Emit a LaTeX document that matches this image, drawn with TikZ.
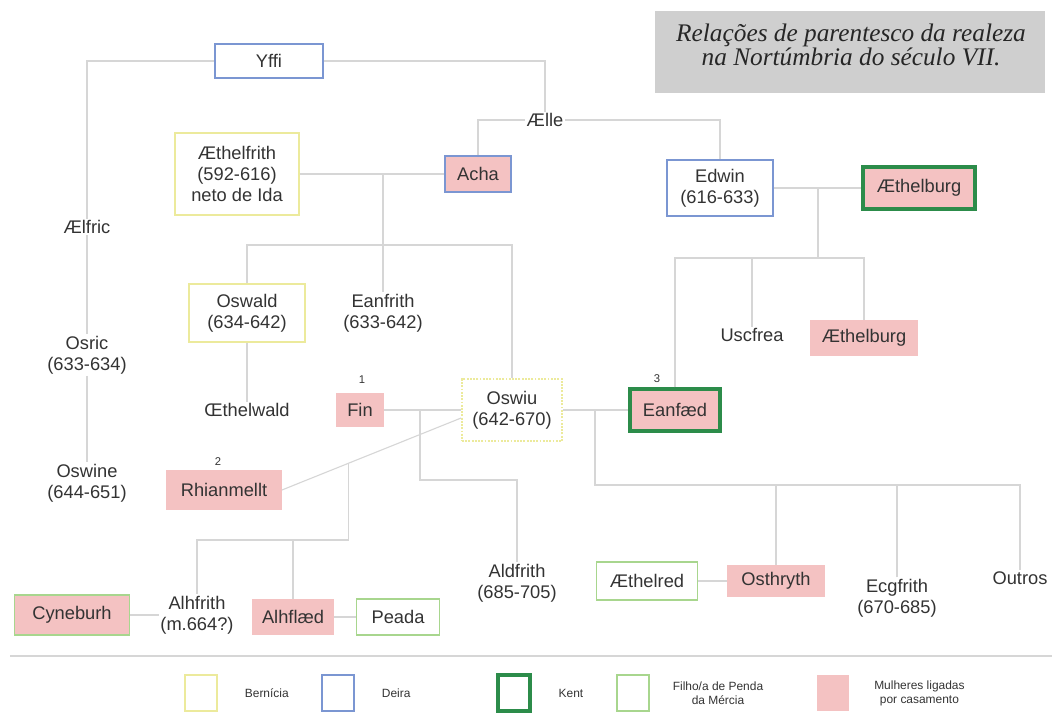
\documentclass[tikz,border=0pt]{standalone}
\usepackage{fontspec}
\setmainfont{Liberation Sans}
\newfontfamily\titlefont{Liberation Serif}
\usetikzlibrary{positioning,calc}
\definecolor{bernYel}{HTML}{ECEA9C}
\definecolor{deiraBlue}{HTML}{7B96D2}
\definecolor{kentGreen}{HTML}{2C8C4A}
\definecolor{pendaGreen}{HTML}{A8D68E}
\definecolor{wedPink}{HTML}{F4C2C2}
\definecolor{linkGray}{HTML}{D6D6D6}
\definecolor{txtGray}{HTML}{333333}
\definecolor{titleGray}{HTML}{CFCFCF}

\begin{document}
\begin{tikzpicture}[x=0.025cm, y=-0.025cm, font=\fontsize{13}{15}\selectfont, text=txtGray,
  sz/.style 2 args={minimum width=#1, minimum height=#2, inner sep=1pt, align=center},
  bern/.style={draw=bernYel, line width=1.3pt},
  deira/.style={draw=deiraBlue, line width=1.3pt},
  kent/.style={draw=kentGreen, line width=2.4pt},
  penda/.style={draw=pendaGreen, line width=1.2pt},
  wed/.style={fill=wedPink},
  who/.style={align=center, inner sep=1pt, fill=white},
  link/.style={draw=linkGray, line width=0.8pt},
  num/.style={font=\fontsize{8}{9}\selectfont},
  leg/.style={font=\fontsize{8.5}{10}\selectfont, align=center}
]
\useasboundingbox (0,0) rectangle (1062,719);
% title
\node[fill=titleGray, minimum width=9.73cm, minimum height=2.03cm] (title) at (850,52) {};
\node[align=center, font=\titlefont\itshape\fontsize{18}{17}\selectfont, text=black!85] (titletxt) at (851,45)
  {Relações de parentesco da realeza\\na Nortúmbria do século VII.};
% junction points
\coordinate (m1) at (383,174);
\coordinate (j1) at (383,245);
\coordinate (m2) at (420,410);
\coordinate (m4) at (595,410);
\coordinate (m5) at (818,188);

% people: Deira
\node[sz={2.7cm}{0.83cm}, deira] (yffi) at (269,61) {Yffi};
\node[who] (aelle) at (545,120) {Ælle};
\node[sz={1.65cm}{0.88cm}, deira, wed] (acha) at (478,174) {Acha};
\node[sz={2.65cm}{1.4cm}, deira] (edwin) at (720,188) {Edwin\\(616-633)};
\node[sz={2.8cm}{1.05cm}, kent, wed] (aethelburg) at (919,188) {Æthelburg};
\node[who] (uscfrea) at (752,335) {Uscfrea};
\node[sz={2.7cm}{0.88cm}, wed] (aethelburg2) at (864,338) {Æthelburg};
\node[who] (aelfric) at (87,227) {Ælfric};
\node[who] (osric) at (87,355) {Osric\\(633-634)};
\node[who] (oswine) at (87,483) {Oswine\\(644-651)};
% people: Bernicia
\node[sz={3.08cm}{2.05cm}, bern] (aethelfrith) at (237,174) {Æthelfrith\\(592-616)\\neto de Ida};
\node[sz={2.88cm}{1.43cm}, bern] (oswald) at (247,313) {Oswald\\(634-642)};
\node[who] (eanfrith) at (383,313) {Eanfrith\\(633-642)};
\node[who] (aethelwald) at (247,410) {Œthelwald};
\node[sz={2.5cm}{1.55cm}, bern, densely dotted] (oswiu) at (512,410) {Oswiu\\(642-670)};
\node[sz={1.18cm}{0.83cm}, wed] (fin) at (360,410) {Fin};
\node[num] (n1) at (362,380) {1};
\node[sz={2.88cm}{1.0cm}, wed] (rhianmellt) at (224,490) {Rhianmellt};
\node[num] (n2) at (218,462) {2};
\node[sz={2.25cm}{1.05cm}, kent, wed] (eanfaed) at (675,410) {Eanfæd};
\node[num] (n3) at (657,379) {3};
% children of Oswiu
\node[who] (aldfrith) at (517,583) {Aldfrith\\(685-705)};
\node[sz={2.53cm}{0.95cm}, penda] (aethelred) at (647,581) {Æthelred};
\node[sz={2.45cm}{0.8cm}, wed] (osthryth) at (776,581) {Osthryth};
\node[who] (ecgfrith) at (897,598) {Ecgfrith\\(670-685)};
\node[who] (outros) at (1020,578) {Outros};
\node[sz={2.88cm}{1.0cm}, penda, wed] (cyneburh) at (72,615) {Cyneburh};
\node[who] (alhfrith) at (197,615) {Alhfrith\\(m.664?)};
\node[sz={2.03cm}{0.88cm}, wed] (alhflaed) at (293,617) {Alhflæd};
\node[sz={2.08cm}{0.9cm}, penda] (peada) at (398,617) {Peada};

% connectors
\path[link] (yffi.west) -| (aelfric.north);
\path[link] (aelfric.south) -- (osric.north);
\path[link] (osric.south) -- (oswine.north);
\path[link] (yffi.east) -| (aelle.north);
\path[link] (aelle.west) -| (acha.north);
\path[link] (aelle.east) -| (edwin.north);
\path[link] (aethelfrith.east |- m1) -- (acha.west |- m1);
\path[link] (m1) -- (eanfrith.north);
\path[link] (oswald.north) |- (j1) -| (oswiu.north);
\path[link] (oswald.south) -- (aethelwald.north);
\path[link] (fin.east) -- (oswiu.west);
\path[link] (m2) -- ++(0,70) -| (aldfrith.north);
\coordinate (m3) at ($(rhianmellt.east)!0.374!(oswiu.west |- 0,418)$);
\path[link] (rhianmellt.east) -- (oswiu.west |- 0,418);
\path[link] (m3) |- (alhfrith.north |- 0,540) -- (alhfrith.north);
\path[link] (alhflaed.north) -- (alhflaed.north |- 0,540);
\path[link] (cyneburh.east) -- (alhfrith.west);
\path[link] (alhflaed.east) -- (peada.west);
\path[link] (oswiu.east) -- (eanfaed.west);
\path[link] (m4) |- (outros.north |- 0,485) -- (outros.north);
\path[link] (osthryth.north) -- (osthryth.north |- 0,485);
\path[link] (ecgfrith.north) -- (ecgfrith.north |- 0,485);
\path[link] (aethelred.east) -- (osthryth.west);
\path[link] (edwin.east) -- (aethelburg.west);
\path[link] (m5) -- ++(0,70);
\path[link] (eanfaed.north) |- (aethelburg2.north |- 0,258) -- (aethelburg2.north);
\path[link] (uscfrea.north) -- (uscfrea.north |- 0,258);

% legend
\draw[draw=linkGray, line width=1.4pt] (10,656) -- (1052,656);
\node[sz={0.8cm}{0.9cm}, bern] (kbern) at (201,693) {};
\node[leg, right=0.55cm of kbern] (tbern) {Bernícia};
\node[sz={0.8cm}{0.9cm}, deira] (kdeira) at (338,693) {};
\node[leg, right=0.55cm of kdeira] (tdeira) {Deira};
\node[sz={0.8cm}{0.9cm}, kent] (kkent) at (514,693) {};
\node[leg, right=0.55cm of kkent] (tkent) {Kent};
\node[sz={0.8cm}{0.9cm}, penda] (kpenda) at (633,693) {};
\node[leg, right=0.45cm of kpenda] (tpenda) {Filho/a de Penda\\da Mércia};
\node[sz={0.8cm}{0.9cm}, wed] (kwed) at (833,693) {};
\node[leg, right=0.5cm of kwed] (twed) {Mulheres ligadas\\por casamento};
\end{tikzpicture}
\end{document}
